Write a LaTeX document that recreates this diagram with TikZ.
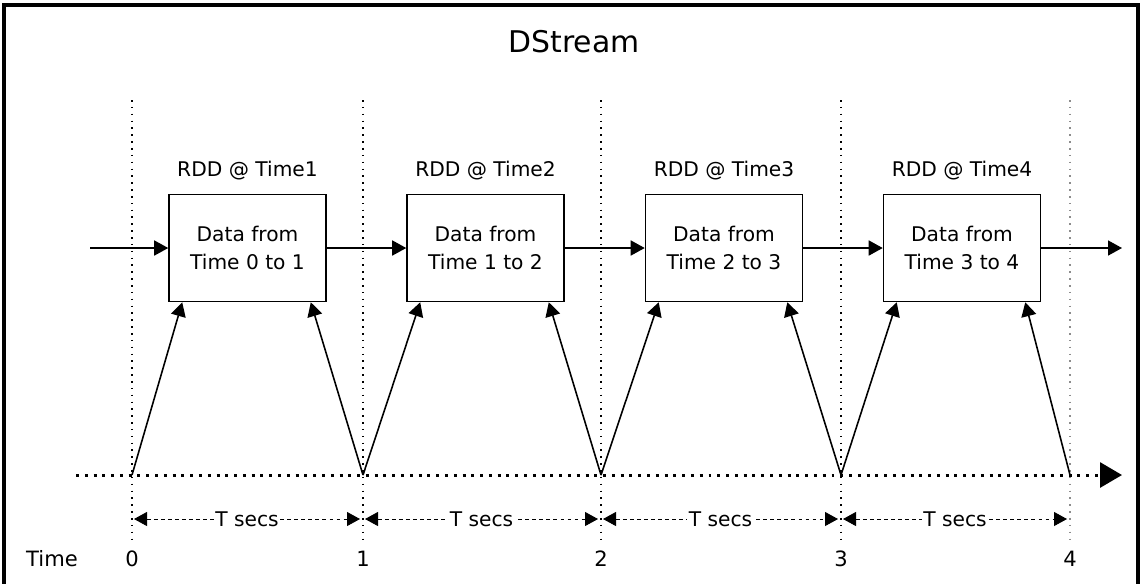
\documentclass[tikz,border=0pt]{standalone}
\usepackage{fontspec}
\setmainfont{DejaVu Sans}
\usetikzlibrary{arrows.meta,positioning,calc}

\tikzset{
  rddbox/.style={draw,line width=0.9pt,minimum width=3.14cm,minimum height=2.14cm,
                 align=center,inner sep=0pt,font=\fontsize{11.5}{16}\selectfont},
  flow/.style={-{Triangle[length=2.8mm,width=3mm]},line width=0.9pt},
  tickline/.style={line width=0.8pt,dash pattern=on 0.9pt off 3pt},
  span/.style={{Triangle[length=2.6mm,width=2.8mm]}-{Triangle[length=2.6mm,width=2.8mm]},
               line width=0.5pt,dash pattern=on 2.2pt off 1.8pt},
  lbl/.style={anchor=base,font=\fontsize{12}{14}\selectfont},
}

\begin{document}
\begin{tikzpicture}[x=0.02cm,y=-0.02cm]
  \useasboundingbox (0,0) rectangle (1141,583);
  % outer frame (bottom edge lies below the page)
  \draw[line width=1.9pt] (4,600) -- (4,5) -- (1138,5) -- (1138,600);
  \node[anchor=base,font=\fontsize{17}{20}\selectfont] (title) at (574,52) {DStream};

  % time ticks
  \foreach \i/\x in {0/132,1/363,2/601,3/841,4/1070}{
     \coordinate (t\i) at (\x,475);
     \node[lbl] (n\i) at (\x,566) {\i};
  }
  \foreach \i in {0,1,2,3}{
     \draw[tickline] ($(t\i)+(0,-375)$) -- ($(t\i)+(0,65)$);
  }
  \draw[tickline,black!45] ($(t4)+(0,-375)$) -- ($(t4)+(0,65)$);
  \node[lbl] (timelab) at (52,566) {Time};

  % time axis
  \coordinate (axstart) at (76,475);
  \coordinate (axend) at (1122,475);
  \draw[line width=1.7pt,dash pattern=on 1.7pt off 3.3pt,-{Triangle[length=4.4mm,width=5mm]}] (axstart) -- (axend);

  % RDD boxes
  \foreach \i/\x/\a/\b in {1/247.5/0/1,2/485.5/1/2,3/724/2/3,4/962/3/4}{
     \node[rddbox] (b\i) at (\x,248) {Data from\\Time \a\ to \b};
     \node[lbl,font=\fontsize{11.5}{14}\selectfont] (r\i) at (\x,176) {RDD @ Time\i};
     \draw[flow] (t\a) -- ($(b\i.south west)+(14,0)$);
     \draw[flow] (t\b) -- ($(b\i.south east)+(-16,0)$);
  }

  % stream flow
  \coordinate (inflow) at (90,248);
  \coordinate (outflow) at (1122,248);
  \draw[flow] (inflow) -- (b1);
  \draw[flow] (b1) -- (b2);
  \draw[flow] (b2) -- (b3);
  \draw[flow] (b3) -- (b4);
  \draw[flow] (b4) -- (outflow);

  % interval spans
  \foreach \i/\j in {0/1,1/2,2/3,3/4}{
     \draw[span] ($(t\i)+(2,44)$) -- node[fill=white,inner sep=1pt,font=\fontsize{11.5}{13}\selectfont] {T secs} ($(t\j)+(-3,44)$);
  }
\end{tikzpicture}
\end{document}
